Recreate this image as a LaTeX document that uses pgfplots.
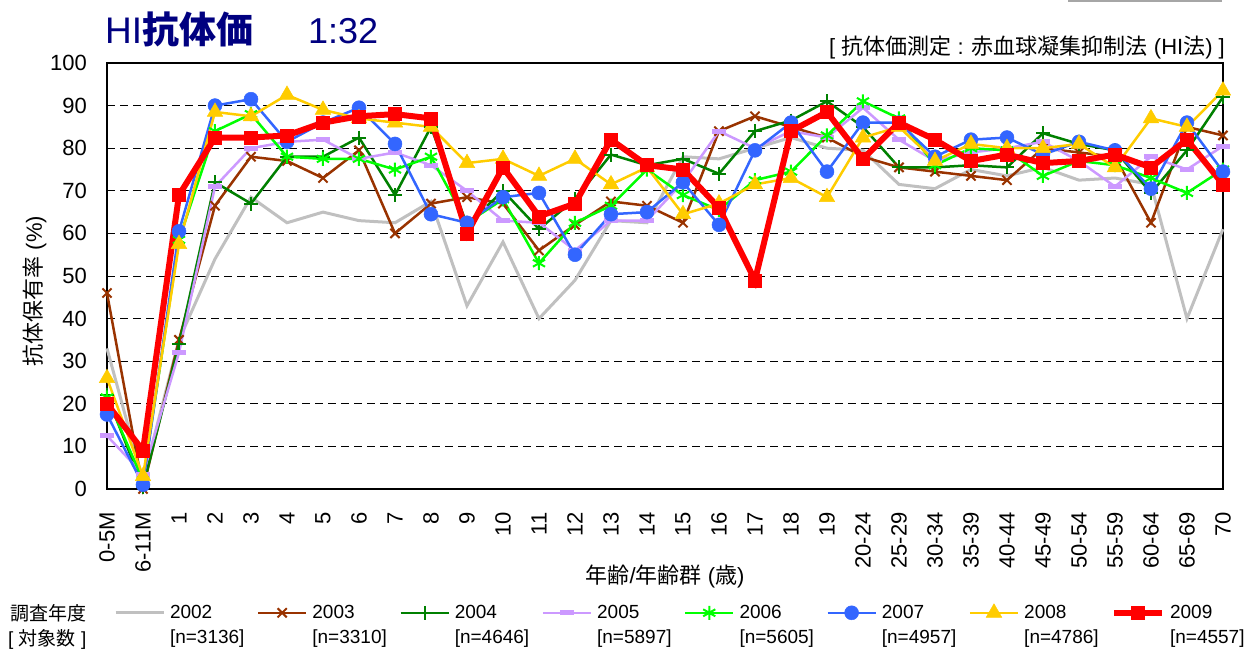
\documentclass[border=0pt]{standalone}
\usepackage{fontspec}
\setmainfont{Liberation Sans}
\newfontfamily\jp{Noto Sans CJK JP}
\usepackage{pgfplots}
\pgfplotsset{compat=1.18}
\usepackage{pgfplotstable}
\definecolor{c02}{RGB}{192,192,192}
\definecolor{c03}{RGB}{153,51,0}
\definecolor{c04}{RGB}{0,128,0}
\definecolor{c05}{RGB}{204,153,255}
\definecolor{c06}{RGB}{0,255,0}
\definecolor{c07}{RGB}{51,102,255}
\definecolor{c08}{RGB}{255,204,0}
\definecolor{c09}{RGB}{255,0,0}
\definecolor{navy}{RGB}{0,0,128}

\pgfplotstableread{
x  y02  y03  y04  y05  y06  y07  y08  y09
0  33   46   22   12.5 21.5 17.5 26   20
1  2    0    0.5  3.5  2    1    3    9
2  35   35   34   32   58.5 60.5 57.5 69
3  54   66.5 72   71   84   90   88.5 82.5
4  68.5 78   67   80   88   91.5 87.5 82.5
5  62.5 77   78   81.5 78   81.5 92.5 83
6  65   73   78   82   77.5 86   89   86
7  63   79.5 82.5 77.5 77.5 89.5 87   87.5
8  62.5 60   69   79   75   81   86   88
9  67.5 67   85   76   78   64.5 85   87
10 43   68.5 62   70   62.5 62.5 76.5 60
11 58   67   70   63   68   68.5 77.5 75.5
12 40   56   61   62.5 53   69.5 73.5 64
13 49   62   68   56   62.5 55   77.5 67
14 63   67.5 78.5 63   66.5 64.5 71.5 82
15 62.5 66.5 76   63   75   65   75.5 76
16 78   62.5 77.5 72   69   72   64.5 75
17 77.5 84   74   84   65.5 62   67   66
18 80   87.5 84   80   72.5 79.5 71.5 49
19 82.5 85   86.5 84   74.5 86   73   84
20 80   82.5 91   82.5 83   74.5 68.5 88.5
21 79.5 78   85   89.5 91   86   82.5 77.5
22 71.5 75.5 75.5 82   87   86   85   86
23 70.5 74.5 75.5 77   76   78   77   82
24 75   73.5 76   79   80   82   81   77
25 73.5 72.5 75.5 80   79.5 82.5 80   78.5
26 75.5 80   83.5 81.5 73.5 78.5 80   76.5
27 72.5 79   81   77   77   81.5 81   77
28 73   78   79.5 71   76   79.5 75.5 78.5
29 71.5 62.5 69.5 78   73   70.5 87   75.5
30 40   85   79.5 75   69.5 86   85   82
31 61   83   92   80.5 75   74.5 93.5 71.5
}\datatable

\begin{document}
\begin{tikzpicture}
\path[use as bounding box] (0,0) rectangle (1260pt,-653pt);
\begin{axis}[
  at={(107pt,-489pt)}, anchor=south west,
  width=1116pt, height=426pt, scale only axis,
  xmin=0, xmax=31, ymin=0, ymax=100,
  clip=false,
  xtick={0,...,31},
  xticklabels={0-5M,6-11M,1,2,3,4,5,6,7,8,9,10,11,12,13,14,15,16,17,18,19,20-24,25-29,30-34,35-39,40-44,45-49,50-54,55-59,60-64,65-69,70},
  ytick={0,10,...,100},
  ticklabel style={font=\fontsize{22}{26}\selectfont, /pgf/number format/assume math mode=true},
  x tick label style={rotate=90, anchor=east, inner sep=0pt},
  xticklabel shift=23pt,
  y tick label style={anchor=east, inner sep=0pt},
  yticklabel shift=20pt,
  major x tick style={draw=none},
  major y tick style={black, line width=1pt},
  major tick length=8pt,
  tick align=inside,
  ymajorgrids,
  major grid style={black, line width=1pt, dash pattern=on 8pt off 5pt},
  axis line style={black, line width=1.8pt},
  legend columns=8,
  legend style={at={(0.0063,-0.2887)}, anchor=west, draw=none, fill=none,
    inner sep=0pt, outer sep=0pt, font=\fontsize{19}{23}\selectfont,
    nodes={inner sep=0pt}, cells={anchor=center}, column sep=0pt,
    /tikz/every odd column/.style={column sep=5pt},
    /tikz/every even column/.style={column sep=44.6pt}},
  legend image code/.code={\draw[mark repeat=2,mark phase=2,#1] plot coordinates {(0pt,0pt) (24pt,0pt) (48pt,0pt)};},
]
\addplot[c02, line width=3pt] table[x=x,y=y02] {\datatable};
\addlegendentry{\rlap{\smash{\raisebox{-25pt}{[n=3136]}}}2002}
\addplot[c03, line width=2.5pt, mark=x, mark size=6.5pt, mark options={line width=2pt}] table[x=x,y=y03] {\datatable};
\addlegendentry{\rlap{\smash{\raisebox{-25pt}{[n=3310]}}}2003}
\addplot[c04, line width=2.5pt, mark=+, mark size=7pt, mark options={line width=2pt}] table[x=x,y=y04] {\datatable};
\addlegendentry{\rlap{\smash{\raisebox{-25pt}{[n=4646]}}}2004}
\addplot[c05, line width=2.5pt, mark=-, mark size=7pt, mark options={line width=5pt}] table[x=x,y=y05] {\datatable};
\addlegendentry{\rlap{\smash{\raisebox{-25pt}{[n=5897]}}}2005}
\addplot[c06, line width=2.5pt, mark=asterisk, mark size=7pt, mark options={line width=2pt}] table[x=x,y=y06] {\datatable};
\addlegendentry{\rlap{\smash{\raisebox{-25pt}{[n=5605]}}}2006}
\addplot[c07, line width=2.5pt, mark=*, mark size=7pt, mark options={line width=0.5pt}] table[x=x,y=y07] {\datatable};
\addlegendentry{\rlap{\smash{\raisebox{-25pt}{[n=4957]}}}2007}
\addplot[c08, line width=2.5pt, mark=triangle*, mark size=9pt, mark options={line width=0.5pt}] table[x=x,y=y08] {\datatable};
\addlegendentry{\rlap{\smash{\raisebox{-25pt}{[n=4786]}}}2008}
\addplot[c09, line width=6pt, mark=square*, mark size=6.5pt, mark options={line width=0.5pt}] table[x=x,y=y09] {\datatable};
\addlegendentry{\rlap{\smash{\raisebox{-25pt}{[n=4557]}}}2009}
\end{axis}
\node[anchor=base west, text=navy, font=\fontsize{37}{40}\selectfont, inner sep=0pt] at (105pt,-43pt) {HI{\jp\bfseries 抗体価}};
\node[anchor=base west, text=navy, font=\fontsize{36}{40}\selectfont, inner sep=0pt] at (308pt,-43pt) {1:32};
\node[anchor=base east, inner sep=0pt, font=\fontsize{22}{26}\selectfont] at (1225pt,-54pt) {[ {\jp 抗体価測定} : {\jp 赤血球凝集抑制法} (HI{\jp 法}) ]};
\node[rotate=90, inner sep=0pt, font=\fontsize{22}{26}\selectfont] at (35pt,-291pt) {{\jp 抗体保有率} (\%)};
\node[inner sep=0pt, font=\fontsize{22}{26}\selectfont] at (665pt,-576pt) {{\jp 年齢}/{\jp 年齢群} ({\jp 歳})};
\node[anchor=base west, inner sep=0pt, font=\fontsize{19}{23}\selectfont] at (10pt,-620pt) {{\jp 調査年度}};
\node[anchor=base west, inner sep=0pt, font=\fontsize{19}{23}\selectfont] at (8pt,-645pt) {[ {\jp 対象数} ]};
\draw[gray!70, line width=2pt] (1068pt,-1pt) -- (1222pt,-1pt);
\end{tikzpicture}
\end{document}
